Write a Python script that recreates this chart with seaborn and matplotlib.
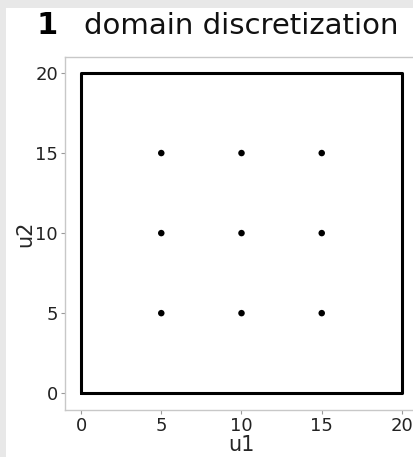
import matplotlib
matplotlib.use("Agg")
import matplotlib.pyplot as plt
import seaborn as sns
import pandas as pd
from matplotlib.patches import Rectangle

# data
u1_points = [5, 10, 15, 5, 10, 15, 5, 10, 15]
u2_points = [5, 5, 5, 10, 10, 10, 15, 15, 15]
domain_u1 = [0, 20, 20, 0, 0]
domain_u2 = [0, 0, 20, 20, 0]
ticks = [0, 5, 10, 15, 20]
panel_number = "1"
panel_title = "domain discretization"

sns.set_style("white")
plt.rcParams["font.family"] = ["DejaVu Sans"]
plt.rcParams.update({
    "axes.edgecolor": "#c8c8c8",
    "xtick.bottom": True,
    "ytick.left": True,
    "xtick.color": "#999999",
    "ytick.color": "#999999",
    "xtick.labelcolor": "#222222",
    "ytick.labelcolor": "#222222",
    "xtick.major.size": 3,
    "ytick.major.size": 3,
    "xtick.major.width": 0.8,
    "ytick.major.width": 0.8,
})

W, H = 414, 457
fig = plt.figure(figsize=(W / 100, H / 100), dpi=100, facecolor="#e8e8e8")
fig.patches.append(Rectangle((6 / W, 0), 1, 1 - 8 / H, transform=fig.transFigure,
                             facecolor="white", edgecolor="none", zorder=-10))

ax = fig.add_axes([65 / W, 47 / H, 353 / W, 353 / H])
ax.set_zorder(1)
ax.patch.set_alpha(0)

dom = pd.DataFrame({"u1": domain_u1, "u2": domain_u2})
sns.lineplot(data=dom, x="u1", y="u2", sort=False, estimator=None, color="black",
             linewidth=2.2, ax=ax)
pts = pd.DataFrame({"u1": u1_points, "u2": u2_points})
sns.scatterplot(data=pts, x="u1", y="u2", color="black", s=22, edgecolor="none", ax=ax)

ax.set_xlim(-1, 21)
ax.set_ylim(-1.05, 21)
ax.set_xticks(ticks)
ax.set_yticks(ticks)
ax.tick_params(labelsize=13, pad=2)
ax.set_xlabel("u1", fontsize=15, labelpad=0)
ax.set_ylabel("u2", fontsize=15, labelpad=0)
for s in ax.spines.values():
    s.set_linewidth(1.0)

fig.text(37 / W, 1 - 34 / H, panel_number, fontsize=22, fontweight="bold", ha="left",
         va="baseline", color="black")
fig.text(84 / W, 1 - 34 / H, panel_title, fontsize=21, ha="left", va="baseline",
         color="#111111")

fig.savefig("out.png", dpi=100, facecolor=fig.get_facecolor())
